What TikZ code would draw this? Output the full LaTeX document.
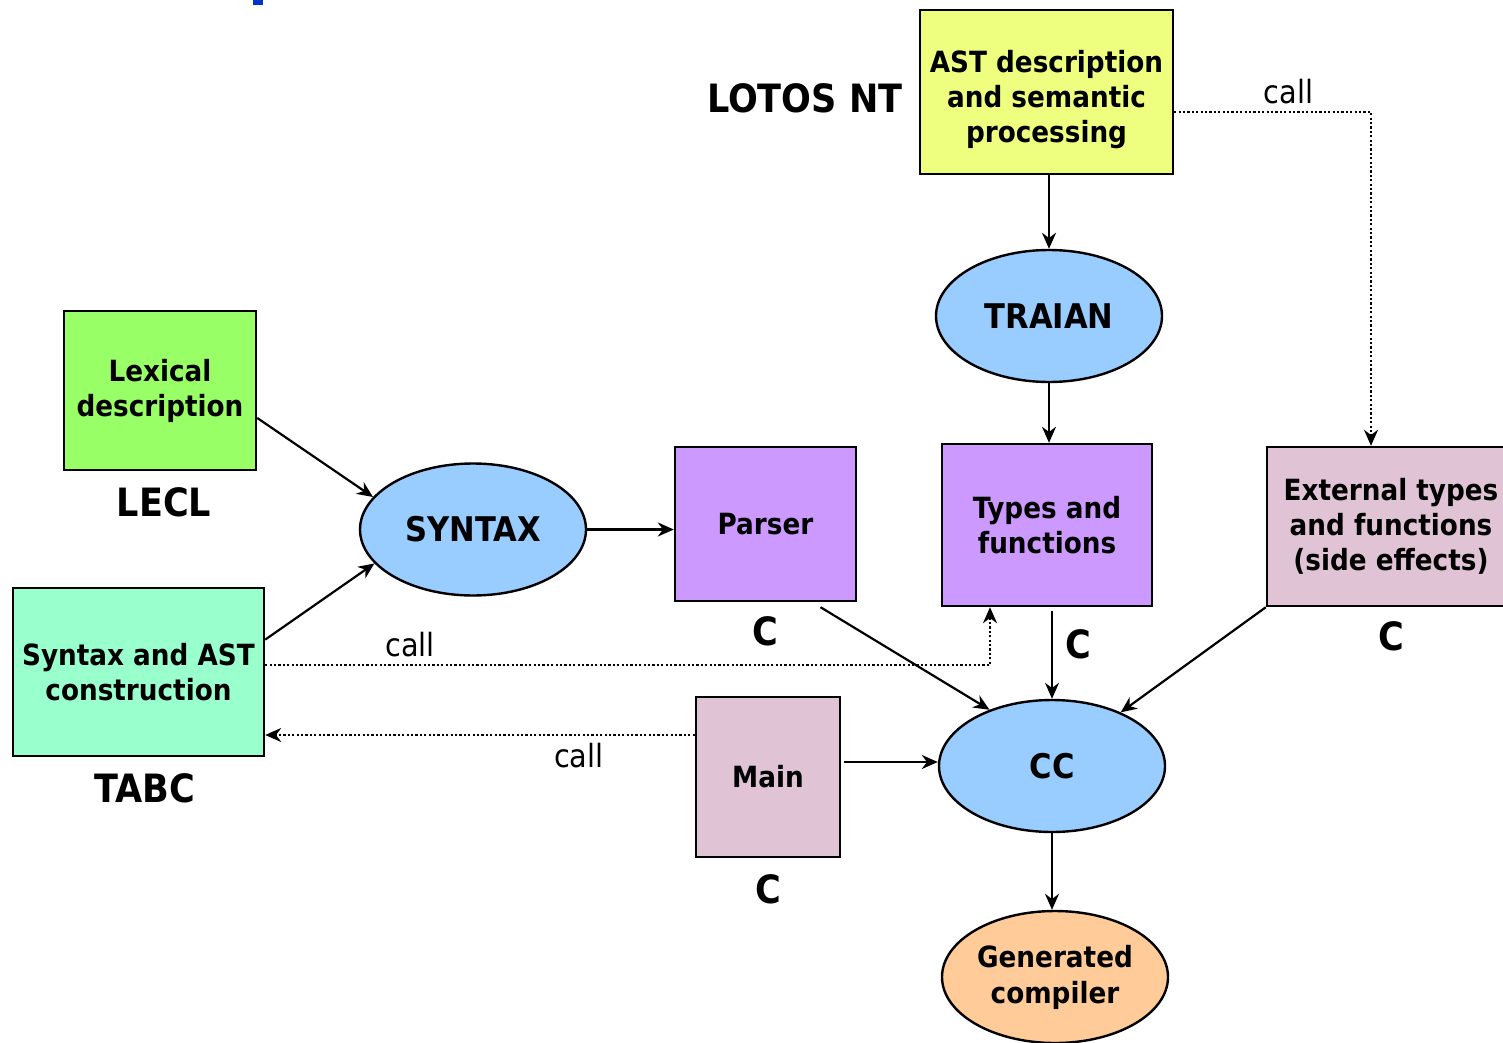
\documentclass[tikz,border=0pt]{standalone}
\usepackage{fontspec}
\setmainfont{DejaVu Sans Condensed}
\usetikzlibrary{arrows.meta,calc,positioning,shapes.geometric}
\definecolor{Lemon}{HTML}{EEFF80}
\definecolor{Lime}{HTML}{99FF66}
\definecolor{Mint}{HTML}{99FFCC}
\definecolor{Sky}{HTML}{99CCFF}
\definecolor{Lilac}{HTML}{CC99FF}
\definecolor{Mauve}{HTML}{E0C4D6}
\definecolor{Peach}{HTML}{FFCC99}
\definecolor{Mark}{HTML}{0033CC}
\tikzset{box/.style={draw=black,line width=1.2pt,inner sep=0pt,align=center,font=\bfseries\fontsize{14.6}{17.5}\selectfont},oval/.style={ellipse,draw=black,line width=1.2pt,fill=Sky,inner sep=0pt,align=center,minimum width=113pt,minimum height=66pt,font=\bfseries\fontsize{17}{17.5}\selectfont},lang/.style={font=\bfseries\fontsize{19.5}{22}\selectfont,inner sep=2pt},note/.style={font=\fontsize{16}{18}\selectfont},flow/.style={-{Stealth[length=8pt,width=7pt]},line width=1.1pt},callflow/.style={flow,dash pattern=on 1.1pt off 1.1pt}}

\begin{document}
\begin{tikzpicture}[x=0.5pt,y=-0.5pt]
  \useasboundingbox (0,0) rectangle (1503,1043);
  \fill[Mark] (253,0) rectangle (263,5);
  % LOTOS NT part
  \node[box,fill=Lemon,minimum width=126.5pt,minimum height=82pt](ast) at (1046.5,92){\rule{0pt}{19pt}AST description\\and semantic\\processing};
  \node[lang,left=6pt of ast,yshift=-3pt](lotos){LOTOS NT};
  \node[oval](traian) at (1049,316){TRAIAN};
  \node[box,fill=Lilac,minimum width=105pt,minimum height=81pt](types) at (1047,525){Types and\\functions};
  % front end
  \node[box,fill=Lime,minimum width=96pt,minimum height=79.5pt](lex) at (160,390.5){Lexical\\description};
  \node[lang,below=6pt of lex,xshift=2pt](lecl){LECL};
  \node[box,fill=Mint,minimum width=125.5pt,minimum height=84pt](tabc) at (138.5,672){Syntax and AST\\construction};
  \node[lang,below=6pt of tabc,xshift=3pt](tabcname){TABC};
  \node[oval](syntax) at (473,529.5){SYNTAX};
  \node[box,fill=Lilac,minimum width=90.5pt,minimum height=77pt](parser) at (765.5,524){Parser};
  \node[lang,below=5pt of parser](parserc){C};
  \node[box,fill=Mauve,minimum width=124pt,minimum height=79.5pt](ext) at (1391,526.5){External types\\and functions\\(side effects)};
  \node[lang,below=5pt of ext](extc){C};
  \node[box,fill=Mauve,minimum width=72pt,minimum height=80pt](main) at (768,777){Main};
  \node[lang,below=6pt of main](mainc){C};
  % back end
  \node[oval](cc) at (1052,766){CC};
  \node[oval,fill=Peach,font=\bfseries\fontsize{14.6}{18}\selectfont](gen) at (1055,977){Generated\\compiler};
  \draw[flow](traian.north |- ast.south)--(traian.north);
  \draw[flow](traian.south)--(traian.south |- types.north);
  \draw[flow]([yshift=-2pt]cc.north |- types.south)--(cc.north) node[lang,pos=.38,right=4pt](typesc){C};
  \draw[flow]($(lex.north east)!.67!(lex.south east)$)--(syntax.162);
  \draw[flow]($(tabc.north east)!.31!(tabc.south east)$)--(syntax.199);
  \draw[flow](syntax.east)--(syntax.east -| parser.west);
  \draw[flow]($(parser.south)+(55,5)$)--(cc.138);
  \draw[flow](ext.south west)--(cc.38);
  \draw[flow]([xshift=1.5pt,yshift=2pt]main.east |- cc.west)--([yshift=2pt]cc.west);
  \draw[flow](cc.south)--(cc.south |- gen.north);
  % calls
  \draw[callflow]([yshift=-10pt]ast.east)-|([xshift=-10pt]ext.north) node[note,above,pos=.29](call1){call};
  \draw[callflow]([yshift=3.5pt]tabc.east)-|([xshift=-28.5pt]types.south) node[note,above,pos=.1](call2){call};
  \draw[callflow]([yshift=21pt]main.west)--([yshift=21pt]main.west -| tabc.east) node[note,below,pos=.27](call3){call};
\end{tikzpicture}
\end{document}
